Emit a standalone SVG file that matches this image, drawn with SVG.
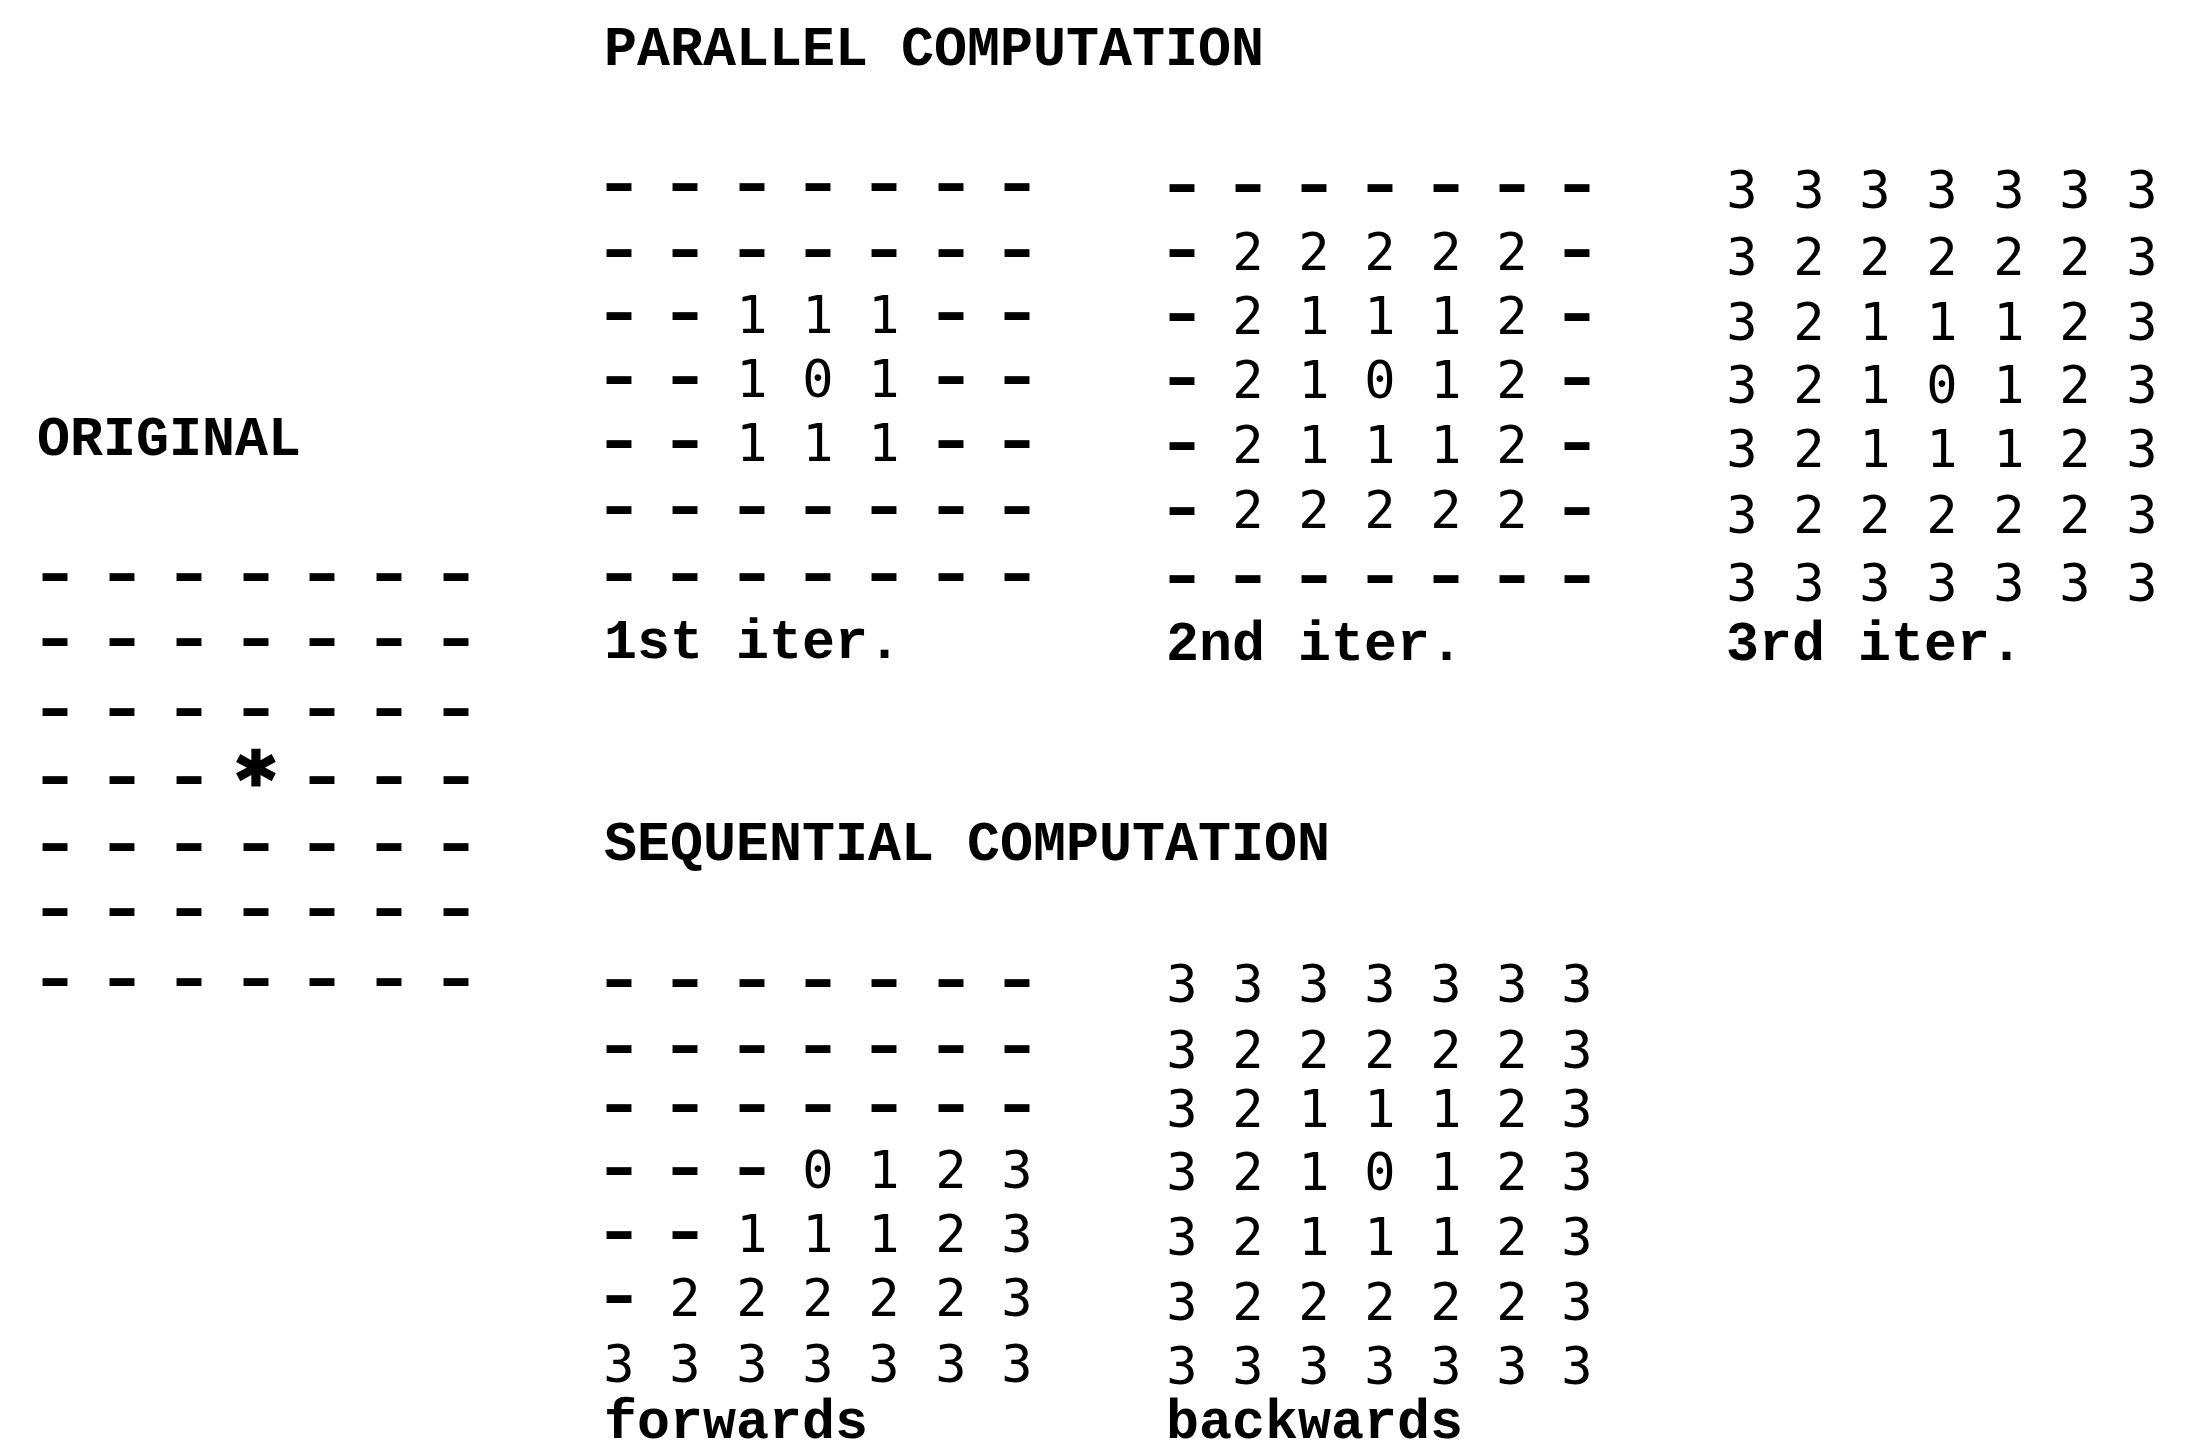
<svg xmlns="http://www.w3.org/2000/svg" width="2196" height="1452" viewBox="0 0 2196 1452" xml:space="preserve">
<style>
.t{font-family:"Liberation Mono","DejaVu Sans Mono",monospace;font-size:55px;font-weight:bold;fill:#000}
.g{font-family:"DejaVu Sans Mono","Liberation Mono",monospace;font-size:52px;text-anchor:middle;fill:#000}
.d{font-size:98px;font-weight:normal}
.a{font-size:74px;font-weight:bold;stroke:#000;stroke-width:3px}
</style>
<rect x="0" y="0" width="2196" height="1452" fill="#fff"/>
<g id="headings">
<text class="t" x="604" y="65">PARALLEL COMPUTATION</text>
<text class="t" x="604" y="860">SEQUENTIAL COMPUTATION</text>
<text class="t" x="37" y="455">ORIGINAL</text>
</g>
<g id="grid-original">
<text class="g" y="604"><tspan class="d" x="55 88 122 155 189 222 256 289 322 356 389 422 456">- - - - - - -</tspan></text>
<text class="g" y="669"><tspan class="d" x="55 88 122 155 189 222 256 289 322 356 389 422 456">- - - - - - -</tspan></text>
<text class="g" y="739"><tspan class="d" x="55 88 122 155 189 222 256 289 322 356 389 422 456">- - - - - - -</tspan></text>
<text class="g" y="807"><tspan class="d" x="55 88 122 155 189 222" y="807">- - - </tspan><tspan class="a" x="256" y="806">*</tspan><tspan class="d" x="289 322 356 389 422 456" y="807"> - - -</tspan></text>
<text class="g" y="874"><tspan class="d" x="55 88 122 155 189 222 256 289 322 356 389 422 456">- - - - - - -</tspan></text>
<text class="g" y="939"><tspan class="d" x="55 88 122 155 189 222 256 289 322 356 389 422 456">- - - - - - -</tspan></text>
<text class="g" y="1009"><tspan class="d" x="55 88 122 155 189 222 256 289 322 356 389 422 456">- - - - - - -</tspan></text>
</g>
<g id="grid-1st-iter">
<text class="g" y="214"><tspan class="d" x="619 652 685 718 752 785 818 851 884 917 951 984 1017">- - - - - - -</tspan></text>
<text class="g" y="280"><tspan class="d" x="619 652 685 718 752 785 818 851 884 917 951 984 1017">- - - - - - -</tspan></text>
<text class="g" y="333"><tspan class="d" x="619 652 685 718" y="343">- - </tspan><tspan x="752 785 818 851 884" y="333">1 1 1</tspan><tspan class="d" x="917 951 984 1017" y="343"> - -</tspan></text>
<text class="g" y="397"><tspan class="d" x="619 652 685 718" y="407">- - </tspan><tspan x="752 785 818 851 884" y="397">1 0 1</tspan><tspan class="d" x="917 951 984 1017" y="407"> - -</tspan></text>
<text class="g" y="461"><tspan class="d" x="619 652 685 718" y="471">- - </tspan><tspan x="752 785 818 851 884" y="461">1 1 1</tspan><tspan class="d" x="917 951 984 1017" y="471"> - -</tspan></text>
<text class="g" y="537"><tspan class="d" x="619 652 685 718 752 785 818 851 884 917 951 984 1017">- - - - - - -</tspan></text>
<text class="g" y="604"><tspan class="d" x="619 652 685 718 752 785 818 851 884 917 951 984 1017">- - - - - - -</tspan></text>
<text class="t" x="604" y="658">1st iter.</text>
</g>
<g id="grid-2nd-iter">
<text class="g" y="215"><tspan class="d" x="1182 1215 1248 1281 1314 1347 1380 1413 1446 1479 1512 1545 1577">- - - - - - -</tspan></text>
<text class="g" y="270"><tspan class="d" x="1182 1215" y="280">- </tspan><tspan x="1248 1281 1314 1347 1380 1413 1446 1479 1512" y="270">2 2 2 2 2</tspan><tspan class="d" x="1545 1577" y="280"> -</tspan></text>
<text class="g" y="334"><tspan class="d" x="1182 1215" y="344">- </tspan><tspan x="1248 1281 1314 1347 1380 1413 1446 1479 1512" y="334">2 1 1 1 2</tspan><tspan class="d" x="1545 1577" y="344"> -</tspan></text>
<text class="g" y="398"><tspan class="d" x="1182 1215" y="408">- </tspan><tspan x="1248 1281 1314 1347 1380 1413 1446 1479 1512" y="398">2 1 0 1 2</tspan><tspan class="d" x="1545 1577" y="408"> -</tspan></text>
<text class="g" y="463"><tspan class="d" x="1182 1215" y="473">- </tspan><tspan x="1248 1281 1314 1347 1380 1413 1446 1479 1512" y="463">2 1 1 1 2</tspan><tspan class="d" x="1545 1577" y="473"> -</tspan></text>
<text class="g" y="528"><tspan class="d" x="1182 1215" y="538">- </tspan><tspan x="1248 1281 1314 1347 1380 1413 1446 1479 1512" y="528">2 2 2 2 2</tspan><tspan class="d" x="1545 1577" y="538"> -</tspan></text>
<text class="g" y="606"><tspan class="d" x="1182 1215 1248 1281 1314 1347 1380 1413 1446 1479 1512 1545 1577">- - - - - - -</tspan></text>
<text class="t" x="1166" y="660">2nd iter.</text>
</g>
<g id="grid-3rd-iter">
<text class="g" y="208" x="1742 1775 1809 1842 1875 1909 1942 1975 2009 2042 2075 2108 2142">3 3 3 3 3 3 3</text>
<text class="g" y="275" x="1742 1775 1809 1842 1875 1909 1942 1975 2009 2042 2075 2108 2142">3 2 2 2 2 2 3</text>
<text class="g" y="340" x="1742 1775 1809 1842 1875 1909 1942 1975 2009 2042 2075 2108 2142">3 2 1 1 1 2 3</text>
<text class="g" y="403" x="1742 1775 1809 1842 1875 1909 1942 1975 2009 2042 2075 2108 2142">3 2 1 0 1 2 3</text>
<text class="g" y="467" x="1742 1775 1809 1842 1875 1909 1942 1975 2009 2042 2075 2108 2142">3 2 1 1 1 2 3</text>
<text class="g" y="533" x="1742 1775 1809 1842 1875 1909 1942 1975 2009 2042 2075 2108 2142">3 2 2 2 2 2 3</text>
<text class="g" y="601" x="1742 1775 1809 1842 1875 1909 1942 1975 2009 2042 2075 2108 2142">3 3 3 3 3 3 3</text>
<text class="t" x="1726" y="660">3rd iter.</text>
</g>
<g id="grid-forwards">
<text class="g" y="1010"><tspan class="d" x="619 652 685 718 752 785 818 851 884 917 951 984 1017">- - - - - - -</tspan></text>
<text class="g" y="1076"><tspan class="d" x="619 652 685 718 752 785 818 851 884 917 951 984 1017">- - - - - - -</tspan></text>
<text class="g" y="1135"><tspan class="d" x="619 652 685 718 752 785 818 851 884 917 951 984 1017">- - - - - - -</tspan></text>
<text class="g" y="1188"><tspan class="d" x="619 652 685 718 752 785" y="1198">- - - </tspan><tspan x="818 851 884 917 951 984 1017" y="1188">0 1 2 3</tspan></text>
<text class="g" y="1252"><tspan class="d" x="619 652 685 718" y="1262">- - </tspan><tspan x="752 785 818 851 884 917 951 984 1017" y="1252">1 1 1 2 3</tspan></text>
<text class="g" y="1316"><tspan class="d" x="619 652" y="1326">- </tspan><tspan x="685 718 752 785 818 851 884 917 951 984 1017" y="1316">2 2 2 2 2 3</tspan></text>
<text class="g" y="1382" x="619 652 685 718 752 785 818 851 884 917 951 984 1017">3 3 3 3 3 3 3</text>
<text class="t" x="604" y="1438">forwards</text>
</g>
<g id="grid-backwards">
<text class="g" y="1002" x="1182 1215 1248 1281 1314 1347 1380 1413 1446 1479 1512 1545 1577">3 3 3 3 3 3 3</text>
<text class="g" y="1068" x="1182 1215 1248 1281 1314 1347 1380 1413 1446 1479 1512 1545 1577">3 2 2 2 2 2 3</text>
<text class="g" y="1127" x="1182 1215 1248 1281 1314 1347 1380 1413 1446 1479 1512 1545 1577">3 2 1 1 1 2 3</text>
<text class="g" y="1190" x="1182 1215 1248 1281 1314 1347 1380 1413 1446 1479 1512 1545 1577">3 2 1 0 1 2 3</text>
<text class="g" y="1255" x="1182 1215 1248 1281 1314 1347 1380 1413 1446 1479 1512 1545 1577">3 2 1 1 1 2 3</text>
<text class="g" y="1320" x="1182 1215 1248 1281 1314 1347 1380 1413 1446 1479 1512 1545 1577">3 2 2 2 2 2 3</text>
<text class="g" y="1384" x="1182 1215 1248 1281 1314 1347 1380 1413 1446 1479 1512 1545 1577">3 3 3 3 3 3 3</text>
<text class="t" x="1166" y="1438">backwards</text>
</g>
</svg>
